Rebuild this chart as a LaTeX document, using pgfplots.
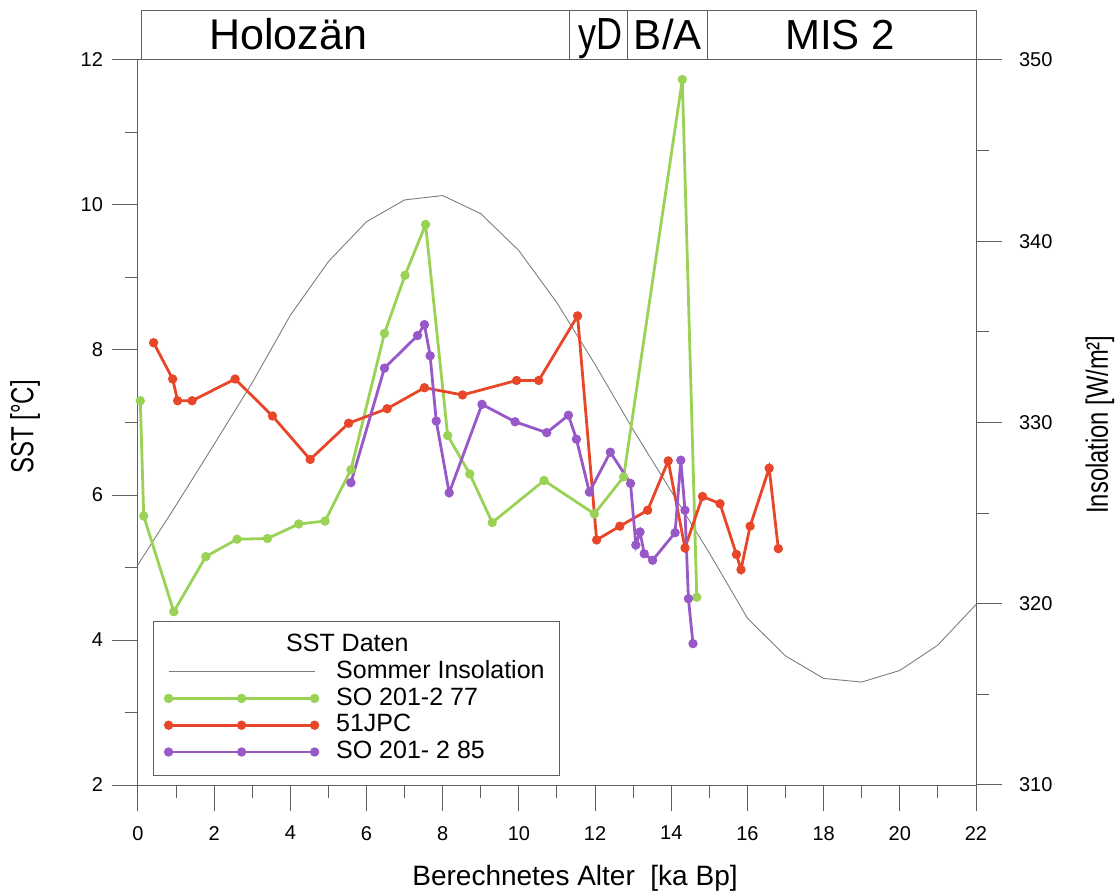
\documentclass[border=0pt]{standalone}
\usepackage{pgfplots}
\pgfplotsset{compat=1.18}
\usepackage{fontspec}
\setmainfont{Liberation Sans}
\definecolor{cgreen}{RGB}{154,210,86}
\definecolor{cred}{RGB}{232,70,40}
\definecolor{cpurple}{RGB}{152,88,200}
\definecolor{cins}{RGB}{125,125,125}
\definecolor{caxis}{RGB}{95,95,95}
\begin{document}
\begin{tikzpicture}
\path[use as bounding box] (-69pt,-55pt) rectangle (491pt,392.5pt);
\pgfplotsset{
 common/.style={
  at={(0,0)}, anchor=south west, scale only axis, width=419pt, height=362.5pt,
  xmin=0, xmax=22,
  tick align=outside, major tick length=13pt, minor tick length=6.5pt,
  axis line style={caxis, line width=0.5pt},
  every tick/.style={caxis, line width=0.5pt},
  tick label style={font=\fontsize{10}{12}\selectfont},
  /pgf/number format/assume math mode=true,
 }
}
% Insolation (right axis)
\begin{axis}[common,
  ymin=310, ymax=350,
  hide x axis,
  axis y line*=right,
  ytick={310,320,...,350}, minor y tick num=1,
  yticklabel style={xshift=5pt},
  ylabel={\scalebox{0.77}[1]{Insolation [W/m²]}},
  ylabel style={at={(axis description cs:1.148,0.497)}, anchor=center, rotate=0, font=\fontsize{15.4}{17}\selectfont},
]
\addplot[cins, line width=0.45pt] coordinates {
(0,322.16) (1,325.44) (2,328.8) (3,332.2) (4,335.92) (5,338.88) (6,341.08) (7,342.28) (8,342.52) (9,341.52) (10,339.48) (11,336.6) (12,333.2) (13,329.6) (14,326.2) (15,322.8) (16,319.2) (17,317.12) (18,315.88) (19,315.68) (20,316.32) (21,317.72) (22,319.96)
};
\end{axis}
% SST (left axis)
\begin{axis}[common,
  ymin=2, ymax=12,
  xtick={0,2,...,22}, minor x tick num=1,
  ytick={2,4,...,12}, minor y tick num=1,
  xtick pos=bottom, ytick pos=left,
  clip=false,
  xticklabel style={yshift=-4pt},
  yticklabel style={xshift=-1pt},
  xlabel={Berechnetes Alter\ \ [ka Bp]},
  xlabel style={at={(axis description cs:0.5215,-0.128)}, anchor=center, font=\fontsize{14}{16}\selectfont},
  ylabel={\scalebox{0.75}[1]{SST [°C]}},
  ylabel style={at={(axis description cs:-0.1348,0.494)}, anchor=center, font=\fontsize{16}{18}\selectfont},
  legend cell align=left,
  legend image code/.code={\draw[mark repeat=1,#1] plot coordinates {(0pt,0pt) (36.5pt,0pt) (73pt,0pt)};},
  legend style={at={(rel axis cs:0.0179,0.2262)}, anchor=north west, draw=caxis, line width=0.4pt,
    font=\fontsize{12.5}{14}\selectfont, inner xsep=6pt, inner ysep=5pt,
    row sep=0pt, column sep=8pt,
    nodes={inner sep=1.2pt, text height=8.8pt, text depth=2.2pt}},
  every axis plot/.append style={line width=1.4pt, mark=*, mark size=1.6pt},
]
\addlegendimage{empty legend}
\addlegendentry{\makebox[0pt][l]{\hspace*{-25pt}SST Daten}}
\addlegendimage{cins, line width=0.45pt, mark=none}
\addlegendentry{Sommer Insolation}
\addplot[cgreen, mark options={fill=cgreen}] coordinates {
(0.06,7.30) (0.15,5.71) (0.94,4.39) (1.78,5.15) (2.60,5.39) (3.40,5.40) (4.22,5.60) (4.91,5.64) (5.59,6.35) (6.47,8.23) (7.01,9.03) (7.55,9.73) (8.13,6.82) (8.71,6.29) (9.30,5.62) (10.66,6.20) (11.98,5.74) (12.75,6.25) (14.29,11.73) (14.67,4.59)
};
\addlegendentry{SO 201-2 77}
\addplot[cred, mark options={fill=cred}] coordinates {
(0.41,8.10) (0.91,7.60) (1.04,7.30) (1.42,7.30) (2.55,7.60) (3.53,7.09) (4.52,6.49) (5.53,6.99) (6.54,7.19) (7.52,7.48) (8.52,7.38) (9.94,7.58) (10.52,7.58) (11.54,8.47) (12.04,5.38) (12.65,5.57) (13.38,5.79) (13.92,6.47) (14.36,5.27) (14.82,5.98) (15.28,5.88) (15.71,5.18) (15.83,4.97) (16.07,5.57) (16.57,6.37) (16.81,5.26)
};
\addlegendentry{51JPC}
\addplot[cpurple, mark options={fill=cpurple}] coordinates {
(5.59,6.17) (6.47,7.75) (7.34,8.20) (7.52,8.35) (7.67,7.92) (7.83,7.02) (8.17,6.03) (9.03,7.25) (9.90,7.01) (10.73,6.86) (11.30,7.10) (11.51,6.77) (11.85,6.04) (12.40,6.59) (12.93,6.16) (13.07,5.31) (13.18,5.49) (13.29,5.19) (13.51,5.10) (14.10,5.48) (14.25,6.48) (14.36,5.79) (14.45,4.57) (14.57,3.95)
};
\addlegendentry{SO 201- 2 85}
% period band
\draw[caxis, line width=0.5pt] (axis cs:0.105,12) rectangle (axis cs:22,12.676);
\draw[caxis, line width=0.5pt] (axis cs:11.34,12) -- (axis cs:11.34,12.676);
\draw[caxis, line width=0.5pt] (axis cs:12.86,12) -- (axis cs:12.86,12.676);
\draw[caxis, line width=0.5pt] (axis cs:14.96,12) -- (axis cs:14.96,12.676);
\node[anchor=base, font=\fontsize{21.5}{24}\selectfont, inner sep=0pt] at (axis cs:3.94,12.138) {Holozän};
\node[anchor=base, font=\fontsize{22.5}{24}\selectfont, inner sep=0pt] at (axis cs:12.14,12.138) {\scalebox{0.8}[1]{yD}};
\node[anchor=base, font=\fontsize{21}{24}\selectfont, inner sep=0pt] at (axis cs:13.91,12.138) {B/A};
\node[anchor=base, font=\fontsize{21}{24}\selectfont, inner sep=0pt] at (axis cs:18.43,12.138) {MIS 2};
\end{axis}
\end{tikzpicture}
\end{document}
